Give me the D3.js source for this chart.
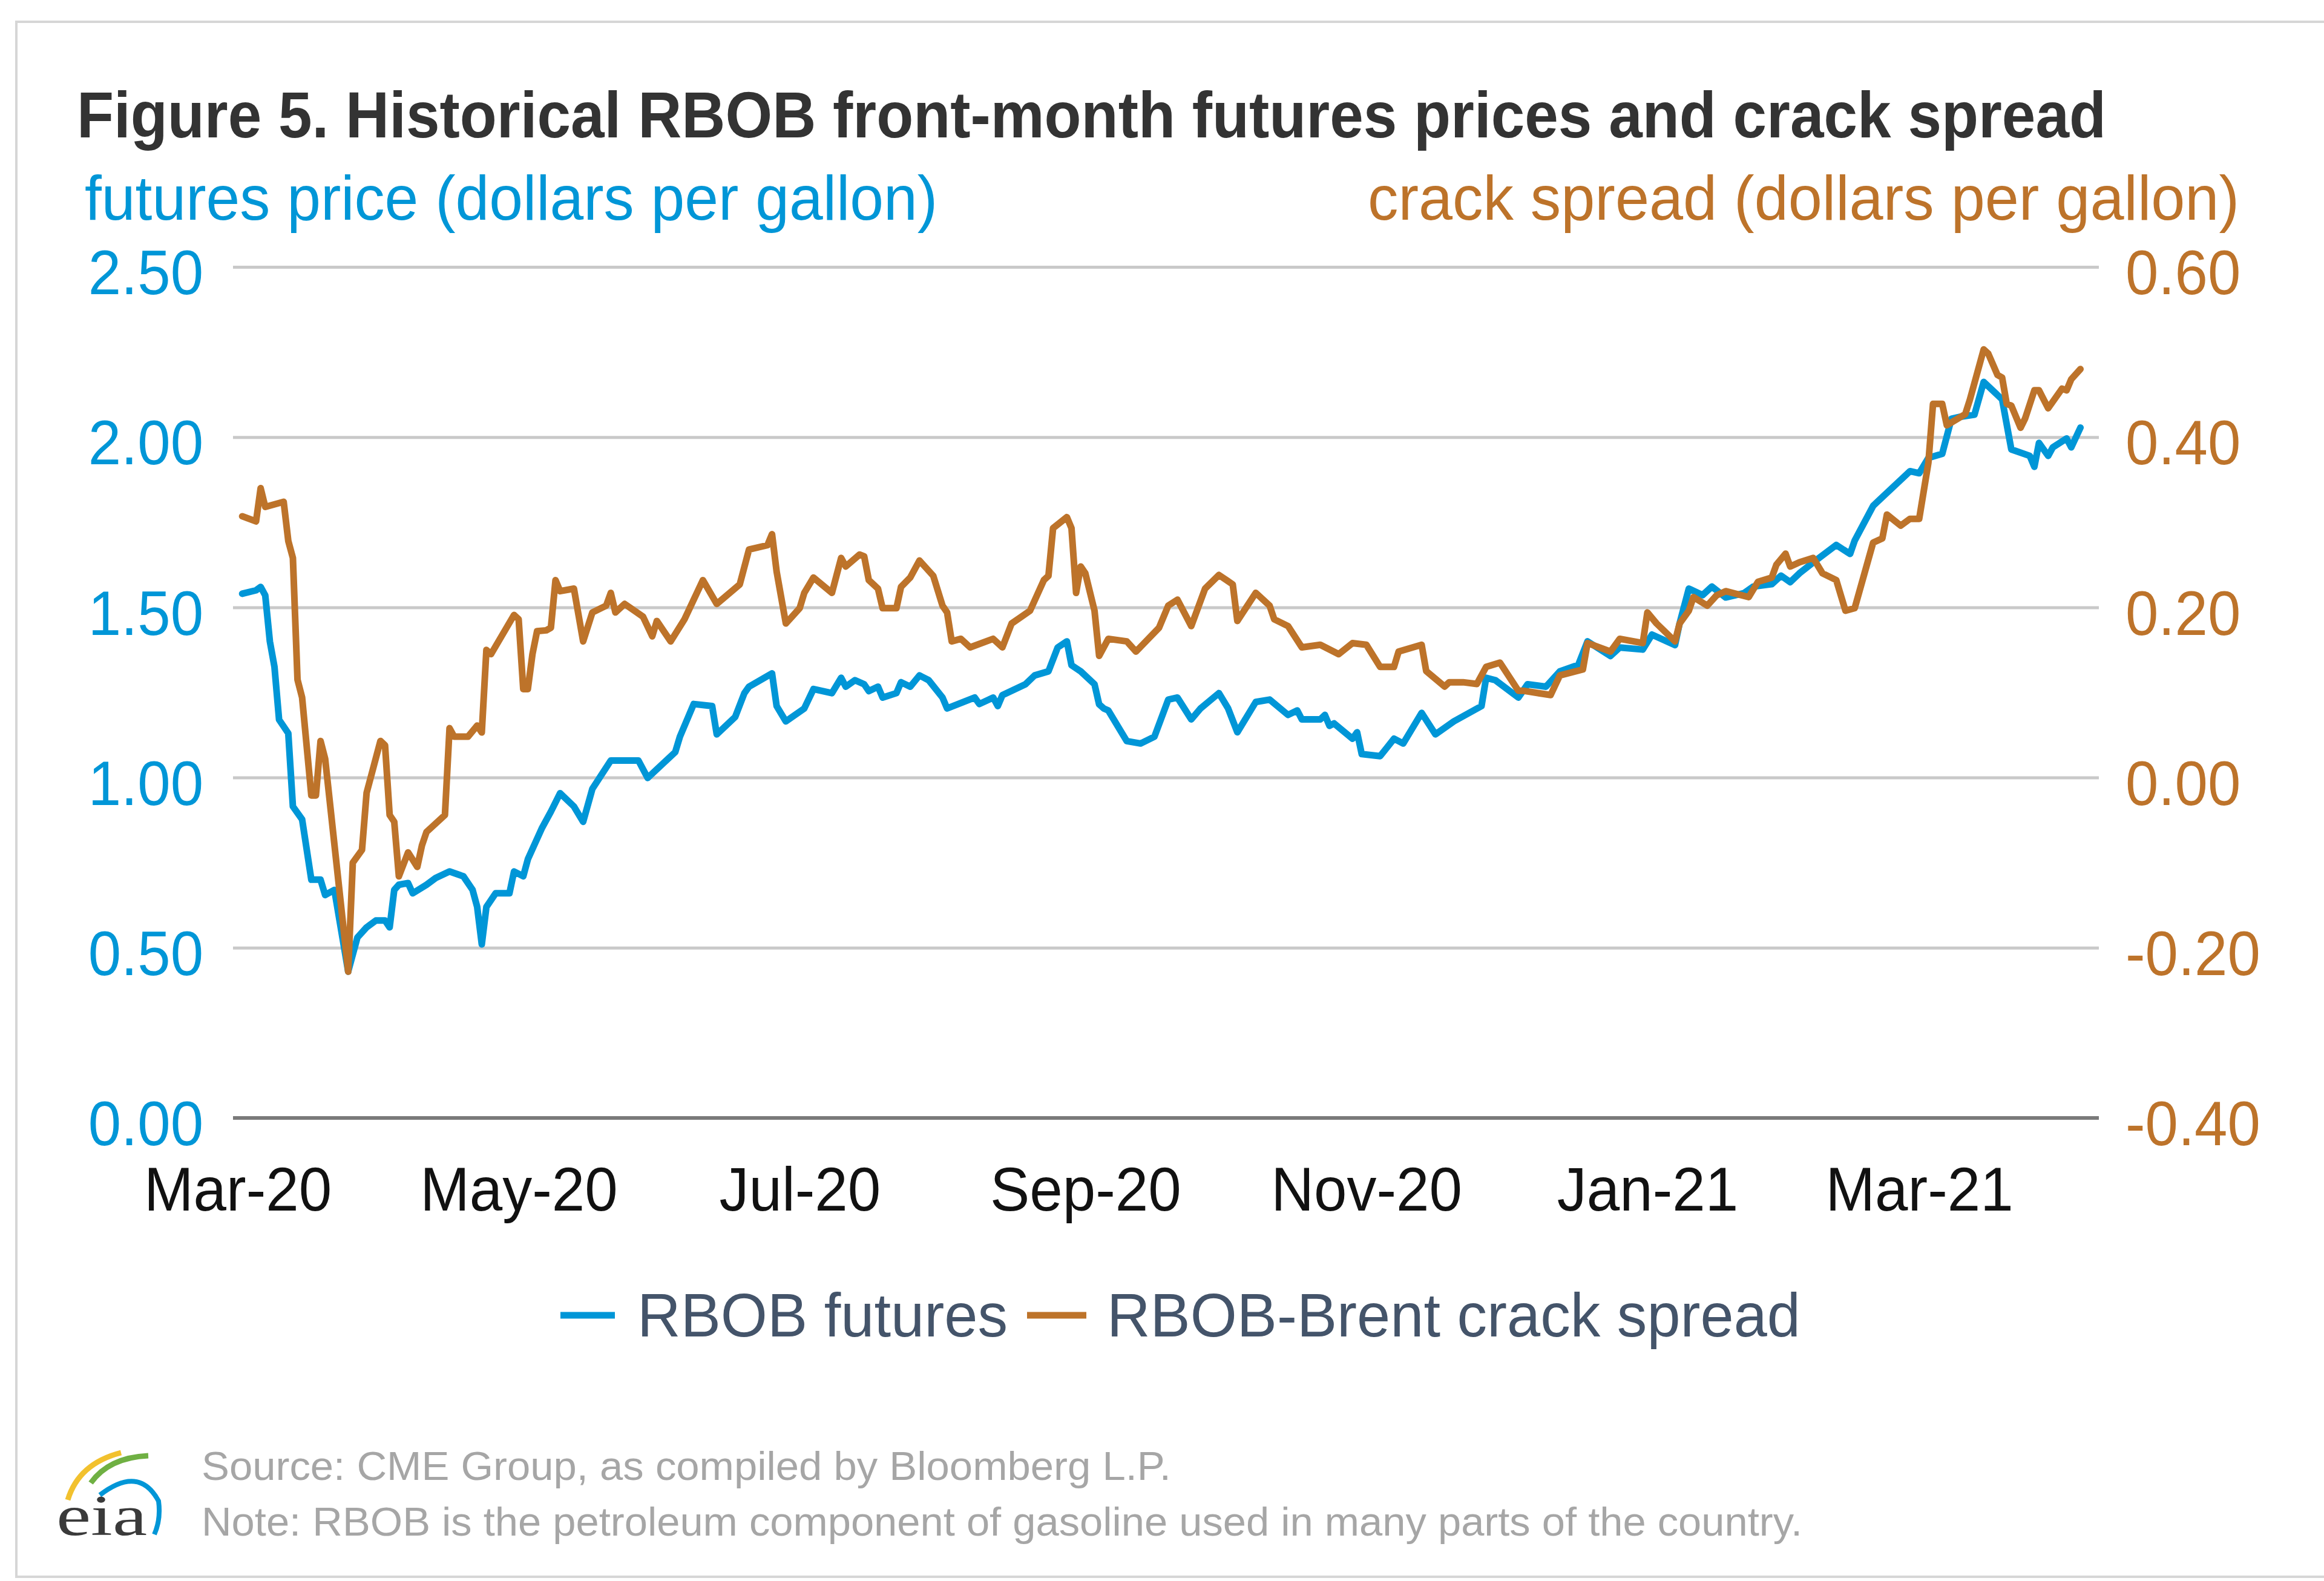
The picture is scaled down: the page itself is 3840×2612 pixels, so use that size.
<!DOCTYPE html>
<html>
<head>
<meta charset="utf-8">
<script src="https://cdn.jsdelivr.net/npm/d3@7"></script>
<style>
  html, body { margin: 0; padding: 0; background: #ffffff; }
  svg { display: block; }
</style>
</head>
<body>
<svg id="chart" width="3840" height="2612"></svg>
<script>
// ---------------- DATA ----------------
const titleText = "Figure 5. Historical RBOB front-month futures prices and crack spread";
const leftAxisTitle = "futures price (dollars per gallon)";
const rightAxisTitle = "crack spread (dollars per gallon)";
const seriesNames = ["RBOB futures", "RBOB-Brent crack spread"];
const leftTicks = [0, 0.5, 1.0, 1.5, 2.0, 2.5];
const rightTicks = [-0.4, -0.2, 0, 0.2, 0.4, 0.6];
const xTickDates = ["2020-03-01","2020-05-01","2020-07-01","2020-09-01","2020-11-01","2021-01-01","2021-03-01"];
const sourceLines = [
  "Source: CME Group, as compiled by Bloomberg L.P.",
  "Note: RBOB is the petroleum component of gasoline used in many parts of the country."
];

const futuresDates = ["2020-03-02","2020-03-05","2020-03-06","2020-03-07","2020-03-08","2020-03-09","2020-03-10","2020-03-11","2020-03-12","2020-03-13","2020-03-15","2020-03-17","2020-03-19","2020-03-20","2020-03-22","2020-03-25","2020-03-27","2020-03-29","2020-03-31","2020-04-02","2020-04-03","2020-04-04","2020-04-05","2020-04-07","2020-04-08","2020-04-11","2020-04-13","2020-04-16","2020-04-19","2020-04-21","2020-04-22","2020-04-23","2020-04-24","2020-04-26","2020-04-29","2020-04-30","2020-05-02","2020-05-03","2020-05-06","2020-05-08","2020-05-10","2020-05-13","2020-05-15","2020-05-17","2020-05-21","2020-05-27","2020-05-29","2020-06-04","2020-06-05","2020-06-07","2020-06-08","2020-06-12","2020-06-13","2020-06-17","2020-06-19","2020-06-20","2020-06-25","2020-06-26","2020-06-28","2020-07-02","2020-07-04","2020-07-08","2020-07-10","2020-07-11","2020-07-13","2020-07-15","2020-07-16","2020-07-18","2020-07-19","2020-07-22","2020-07-23","2020-07-25","2020-07-27","2020-07-29","2020-08-01","2020-08-02","2020-08-08","2020-08-09","2020-08-12","2020-08-13","2020-08-14","2020-08-19","2020-08-21","2020-08-24","2020-08-26","2020-08-28","2020-08-29","2020-08-31","2020-09-03","2020-09-04","2020-09-05","2020-09-06","2020-09-10","2020-09-13","2020-09-16","2020-09-19","2020-09-21","2020-09-24","2020-09-26","2020-09-30","2020-10-02","2020-10-04","2020-10-08","2020-10-11","2020-10-15","2020-10-17","2020-10-18","2020-10-22","2020-10-23","2020-10-24","2020-10-25","2020-10-29","2020-10-30","2020-10-31","2020-11-04","2020-11-07","2020-11-09","2020-11-13","2020-11-16","2020-11-20","2020-11-26","2020-11-27","2020-11-29","2020-12-04","2020-12-06","2020-12-10","2020-12-13","2020-12-17","2020-12-19","2020-12-24","2020-12-26","2020-12-31","2021-01-02","2021-01-07","2021-01-08","2021-01-10","2021-01-13","2021-01-15","2021-01-18","2021-01-22","2021-01-24","2021-01-28","2021-01-30","2021-02-01","2021-02-03","2021-02-06","2021-02-11","2021-02-14","2021-02-15","2021-02-19","2021-02-20","2021-02-27","2021-03-01","2021-03-03","2021-03-06","2021-03-08","2021-03-10","2021-03-13","2021-03-15","2021-03-19","2021-03-21","2021-03-25","2021-03-26","2021-03-27","2021-03-29","2021-03-30","2021-04-02","2021-04-03","2021-04-05"];
const futuresValues = [1.54,1.55,1.56,1.535,1.40,1.325,1.17,1.15,1.13,0.915,0.877,0.70,0.70,0.655,0.67,0.43,0.53,0.56,0.58,0.58,0.56,0.67,0.685,0.69,0.66,0.685,0.705,0.724,0.71,0.67,0.62,0.51,0.62,0.66,0.66,0.724,0.71,0.76,0.85,0.90,0.954,0.915,0.87,0.967,1.05,1.05,0.999,1.075,1.12,1.184,1.216,1.21,1.127,1.178,1.248,1.267,1.306,1.21,1.165,1.203,1.26,1.248,1.293,1.267,1.286,1.274,1.254,1.267,1.235,1.248,1.28,1.267,1.30,1.286,1.235,1.203,1.235,1.216,1.235,1.21,1.242,1.274,1.30,1.312,1.382,1.40,1.33,1.312,1.274,1.215,1.203,1.197,1.107,1.10,1.12,1.229,1.235,1.171,1.203,1.248,1.203,1.133,1.222,1.229,1.184,1.197,1.171,1.171,1.184,1.152,1.159,1.114,1.133,1.069,1.063,1.114,1.10,1.19,1.127,1.165,1.21,1.293,1.286,1.235,1.274,1.267,1.312,1.331,1.40,1.357,1.382,1.376,1.42,1.389,1.453,1.555,1.536,1.561,1.529,1.542,1.561,1.568,1.593,1.574,1.60,1.632,1.683,1.657,1.696,1.798,1.811,1.90,1.894,1.939,1.951,2.054,2.06,2.066,2.162,2.111,1.964,1.945,1.913,1.983,1.945,1.97,1.996,1.97,2.028];

const crackDates = ["2020-03-02","2020-03-05","2020-03-06","2020-03-07","2020-03-11","2020-03-12","2020-03-13","2020-03-14","2020-03-15","2020-03-17","2020-03-18","2020-03-19","2020-03-20","2020-03-25","2020-03-26","2020-03-28","2020-03-29","2020-04-01","2020-04-02","2020-04-03","2020-04-04","2020-04-05","2020-04-07","2020-04-09","2020-04-10","2020-04-11","2020-04-15","2020-04-16","2020-04-17","2020-04-20","2020-04-22","2020-04-23","2020-04-24","2020-04-25","2020-04-30","2020-05-01","2020-05-02","2020-05-03","2020-05-04","2020-05-05","2020-05-07","2020-05-08","2020-05-09","2020-05-10","2020-05-13","2020-05-15","2020-05-17","2020-05-20","2020-05-21","2020-05-22","2020-05-24","2020-05-28","2020-05-30","2020-05-31","2020-06-03","2020-06-06","2020-06-10","2020-06-13","2020-06-18","2020-06-20","2020-06-24","2020-06-25","2020-06-26","2020-06-28","2020-07-01","2020-07-02","2020-07-04","2020-07-08","2020-07-10","2020-07-11","2020-07-14","2020-07-15","2020-07-16","2020-07-18","2020-07-19","2020-07-22","2020-07-23","2020-07-25","2020-07-27","2020-07-30","2020-08-01","2020-08-02","2020-08-03","2020-08-05","2020-08-07","2020-08-12","2020-08-14","2020-08-16","2020-08-20","2020-08-23","2020-08-24","2020-08-25","2020-08-28","2020-08-29","2020-08-30","2020-08-31","2020-09-01","2020-09-03","2020-09-04","2020-09-06","2020-09-10","2020-09-12","2020-09-17","2020-09-19","2020-09-21","2020-09-24","2020-09-27","2020-09-30","2020-10-03","2020-10-04","2020-10-08","2020-10-11","2020-10-12","2020-10-15","2020-10-18","2020-10-22","2020-10-26","2020-10-29","2020-11-01","2020-11-04","2020-11-07","2020-11-08","2020-11-13","2020-11-14","2020-11-18","2020-11-19","2020-11-22","2020-11-25","2020-11-27","2020-11-30","2020-12-04","2020-12-05","2020-12-11","2020-12-13","2020-12-18","2020-12-19","2020-12-24","2020-12-26","2020-12-31","2021-01-01","2021-01-03","2021-01-07","2021-01-08","2021-01-10","2021-01-11","2021-01-14","2021-01-16","2021-01-18","2021-01-23","2021-01-25","2021-01-28","2021-01-29","2021-01-31","2021-02-01","2021-02-03","2021-02-06","2021-02-08","2021-02-11","2021-02-13","2021-02-15","2021-02-19","2021-02-21","2021-02-22","2021-02-25","2021-02-27","2021-03-01","2021-03-03","2021-03-04","2021-03-06","2021-03-07","2021-03-11","2021-03-12","2021-03-15","2021-03-16","2021-03-18","2021-03-19","2021-03-20","2021-03-21","2021-03-23","2021-03-24","2021-03-26","2021-03-27","2021-03-29","2021-04-01","2021-04-02","2021-04-03","2021-04-05"];
const crackValues = [0.307,0.301,0.340,0.318,0.324,0.278,0.258,0.115,0.094,-0.021,-0.021,0.043,0.022,-0.228,-0.10,-0.085,-0.018,0.043,0.038,-0.044,-0.052,-0.116,-0.088,-0.105,-0.08,-0.064,-0.044,0.058,0.048,0.048,0.061,0.053,0.15,0.145,0.191,0.186,0.104,0.104,0.145,0.172,0.173,0.176,0.232,0.219,0.222,0.16,0.194,0.202,0.217,0.194,0.204,0.189,0.166,0.184,0.16,0.186,0.232,0.204,0.227,0.268,0.273,0.286,0.242,0.181,0.199,0.217,0.235,0.217,0.258,0.248,0.262,0.260,0.232,0.222,0.199,0.199,0.224,0.235,0.255,0.237,0.202,0.194,0.16,0.163,0.153,0.163,0.153,0.181,0.196,0.232,0.237,0.293,0.306,0.293,0.217,0.248,0.24,0.196,0.143,0.163,0.16,0.148,0.176,0.202,0.209,0.178,0.222,0.238,0.227,0.184,0.217,0.202,0.186,0.178,0.153,0.156,0.145,0.158,0.156,0.13,0.13,0.148,0.156,0.125,0.107,0.112,0.112,0.11,0.13,0.135,0.102,0.102,0.097,0.12,0.127,0.158,0.148,0.163,0.158,0.194,0.181,0.16,0.181,0.196,0.212,0.202,0.214,0.219,0.212,0.23,0.235,0.25,0.263,0.248,0.253,0.258,0.24,0.232,0.196,0.199,0.276,0.281,0.309,0.296,0.304,0.304,0.370,0.439,0.439,0.414,0.427,0.444,0.503,0.498,0.473,0.47,0.439,0.437,0.411,0.422,0.455,0.455,0.434,0.457,0.455,0.468,0.48];

// ---------------- STYLE ----------------
const BLUE = "#0096d7";
const ORANGE = "#bd732a";
const FONT = "'Liberation Sans', Arial, Helvetica, sans-serif";

const svg = d3.select("#chart");
const parse = d3.timeParse("%Y-%m-%d");
const fmt2 = v => d3.format(".2f")(v).replace("\u2212", "-");

const plot = { left: 385, right: 3468, top: 441, bottom: 1847 };

const x = d3.scaleTime()
  .domain([parse("2020-02-29"), parse("2021-04-09")])
  .range([plot.left, plot.right]);
const yL = d3.scaleLinear().domain([0, 2.5]).range([plot.bottom, plot.top]);
const yR = d3.scaleLinear().domain([-0.4, 0.6]).range([plot.bottom, plot.top]);

function fit(sel, w) {
  sel.attr("textLength", w).attr("lengthAdjust", "spacingAndGlyphs");
}
function squeeze(sel, k) {
  sel.each(function () {
    const w = this.getComputedTextLength();
    d3.select(this).attr("textLength", w * k).attr("lengthAdjust", "spacingAndGlyphs");
  });
}

// frame
svg.append("rect")
  .attr("x", 27).attr("y", 36).attr("width", 3900).attr("height", 2569)
  .attr("fill", "none").attr("stroke", "#d6d6d6").attr("stroke-width", 4);

// title
svg.append("text")
  .attr("x", 127).attr("y", 227)
  .attr("font-family", FONT).attr("font-weight", "bold").attr("font-size", 108)
  .attr("fill", "#333333")
  .text(titleText)
  .call(fit, 3353);

// axis titles
svg.append("text")
  .attr("x", 140).attr("y", 363)
  .attr("font-family", FONT).attr("font-size", 104).attr("fill", BLUE)
  .text(leftAxisTitle).call(fit, 1409);
svg.append("text")
  .attr("x", 2260).attr("y", 363)
  .attr("font-family", FONT).attr("font-size", 104).attr("fill", ORANGE)
  .text(rightAxisTitle).call(fit, 1440);

// gridlines
const grid = svg.append("g").attr("transform", `translate(${plot.left},0)`)
  .call(d3.axisRight(yL).tickValues(leftTicks.slice(1)).tickSize(plot.right - plot.left).tickFormat(""));
grid.select(".domain").remove();
grid.selectAll("line").attr("stroke", "#c9c9c9").attr("stroke-width", 5);

// baseline
svg.append("line")
  .attr("x1", plot.left).attr("x2", plot.right)
  .attr("y1", yL(0)).attr("y2", yL(0))
  .attr("stroke", "#7a7a7a").attr("stroke-width", 6);

// left axis labels
const axL = svg.append("g").attr("transform", `translate(${plot.left},0)`)
  .call(d3.axisLeft(yL).tickValues(leftTicks).tickSize(0).tickPadding(49).tickFormat(fmt2));
axL.select(".domain").remove();
axL.selectAll("text").attr("font-family", FONT).attr("font-size", 104).attr("fill", BLUE).attr("dy", "0.43em")
  .call(squeeze, 0.94);

// right axis labels
const axR = svg.append("g").attr("transform", `translate(${plot.right},0)`)
  .call(d3.axisRight(yR).tickValues(rightTicks).tickSize(0).tickPadding(44).tickFormat(fmt2));
axR.select(".domain").remove();
axR.selectAll("text").attr("font-family", FONT).attr("font-size", 104).attr("fill", ORANGE).attr("dy", "0.43em")
  .call(squeeze, 0.94);

// x axis labels
const axX = svg.append("g").attr("transform", `translate(0,${plot.bottom})`)
  .call(d3.axisBottom(x).tickValues(xTickDates.map(parse)).tickSize(0).tickPadding(81).tickFormat(d3.timeFormat("%b-%y")));
axX.select(".domain").remove();
axX.selectAll("text").attr("font-family", FONT).attr("font-size", 102).attr("fill", "#111111")
  .call(squeeze, 0.96);

// lines
const futures = futuresDates.map((d, i) => ({ date: parse(d), value: futuresValues[i] }));
const crack = crackDates.map((d, i) => ({ date: parse(d), value: crackValues[i] }));

svg.append("path").datum(futures)
  .attr("fill", "none").attr("stroke", BLUE).attr("stroke-width", 11)
  .attr("stroke-linejoin", "round").attr("stroke-linecap", "round")
  .attr("d", d3.line().x(d => x(d.date)).y(d => yL(d.value)));
svg.append("path").datum(crack)
  .attr("fill", "none").attr("stroke", ORANGE).attr("stroke-width", 11)
  .attr("stroke-linejoin", "round").attr("stroke-linecap", "round")
  .attr("d", d3.line().x(d => x(d.date)).y(d => yR(d.value)));

// legend
const legend = svg.append("g");
const legendItems = [
  { name: seriesNames[0], color: BLUE, x1: 926, x2: 1016, tx: 1053, tw: 612 },
  { name: seriesNames[1], color: ORANGE, x1: 1697, x2: 1795, tx: 1829, tw: 1146 }
];
legendItems.forEach(it => {
  legend.append("line").attr("x1", it.x1).attr("x2", it.x2).attr("y1", 2173).attr("y2", 2173)
    .attr("stroke", it.color).attr("stroke-width", 11);
  legend.append("text").attr("x", it.tx).attr("y", 2208)
    .attr("font-family", FONT).attr("font-size", 102).attr("fill", "#44546a")
    .text(it.name).call(fit, it.tw);
});

// source notes
svg.append("text").attr("x", 333).attr("y", 2445)
  .attr("font-family", FONT).attr("font-size", 66).attr("fill", "#a6a6a6")
  .text(sourceLines[0]).call(fit, 1602);
svg.append("text").attr("x", 333).attr("y", 2537)
  .attr("font-family", FONT).attr("font-size", 66).attr("fill", "#a6a6a6")
  .text(sourceLines[1]).call(fit, 2645);

// eia logo
const logo = svg.append("g");
logo.append("path").attr("d", "M112,2478 Q130,2418 200,2400").attr("fill", "none").attr("stroke", "#f2c12e").attr("stroke-width", 9);
logo.append("path").attr("d", "M150,2450 Q180,2408 245,2405").attr("fill", "none").attr("stroke", "#6fb043").attr("stroke-width", 9);
logo.append("path").attr("d", "M165,2470 Q230,2420 262,2480 Q266,2510 255,2535").attr("fill", "none").attr("stroke", "#0096d7").attr("stroke-width", 8);
logo.append("text").attr("x", 93).attr("y", 2536)
  .attr("font-family", "'Liberation Serif', 'DejaVu Serif', serif").attr("font-size", 96).attr("fill", "#3a3a3a")
  .text("eia").call(fit, 150);
</script>
</body>
</html>
